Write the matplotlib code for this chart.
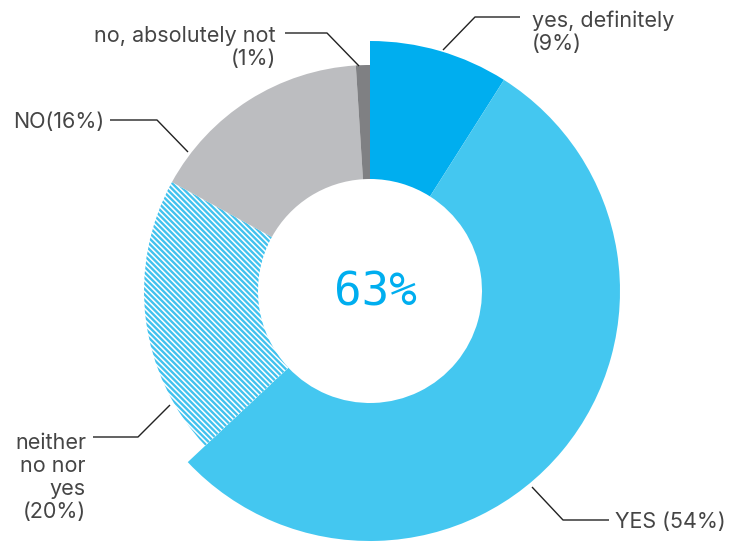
import matplotlib
matplotlib.use('Agg')
import matplotlib.pyplot as plt
from matplotlib.patches import Wedge

# survey answers, clockwise from 12 o'clock
answers = ['yes, definitely', 'YES', 'neither no nor yes', 'NO', 'no, absolutely not']
shares = [9, 54, 20, 16, 1]
labels = ['yes, definitely\n(9%)', 'YES (54%)', 'neither\nno nor\nyes\n(20%)',
          'NO(16%)', 'no, absolutely not\n(1%)']
total_yes = shares[0] + shares[1]

W, H = 734, 542
CX, CY = 370, H - 291
R_BIG, R_SMALL, R_HOLE = 250, 226, 112

colors = ['#00aeef', '#44c7f0', 'white', '#bcbdc0', '#7f8083']
radii = [R_BIG, R_BIG, R_SMALL, R_SMALL, R_SMALL]
hatches = [None, None, '\\' * 6, None, None]

# leader lines in pixel coords (y down)
leaders = [
    [(443, 50), (475, 17), (520, 17)],
    [(532, 487), (563, 520), (609, 520)],
    [(170, 405), (138, 437), (93, 437)],
    [(188, 152), (157, 120), (110, 120)],
    [(359, 66), (327, 33), (285, 33)],
]
# label anchor: x, baseline of the last line, alignment
text_pos = [(532, 50, 'left'), (615, 528, 'left'), (86, 518, 'right'),
            (104, 128, 'right'), (276, 65, 'right')]

plt.rcParams['hatch.linewidth'] = 1.7
plt.rcParams['hatch.color'] = '#42c2ee'

fig = plt.figure(figsize=(W / 100, H / 100), dpi=100)
ax = fig.add_axes([0, 0, 1, 1])
ax.set_xlim(0, W)
ax.set_ylim(0, H)
ax.set_aspect('equal')
ax.axis('off')

start = 90.0
for share, col, r, hat in zip(shares, colors, radii, hatches):
    span = share / sum(shares) * 360.0
    w = Wedge((CX, CY), r, start - span, start, width=r - R_HOLE,
              facecolor=col, edgecolor='#42c2ee' if hat else col,
              linewidth=0, hatch=hat)
    ax.add_patch(w)
    start -= span

for pts, (tx, ty, ha), lab in zip(leaders, text_pos, labels):
    xs = [p[0] for p in pts]
    ys = [H - p[1] for p in pts]
    ax.plot(xs, ys, color='#222222', lw=1.0, solid_capstyle='butt')
    ax.text(tx, H - ty, lab, ha=ha, va='baseline', fontsize=15.5,
            family='Inter', color='#454545', linespacing=1.18,
            multialignment=ha)

ax.text(CX + 5, CY - 2, f'{total_yes}%', ha='center', va='center',
        fontsize=33, family='DejaVu Sans Mono', color='#00aeef')

fig.savefig('out.png', dpi=100)
